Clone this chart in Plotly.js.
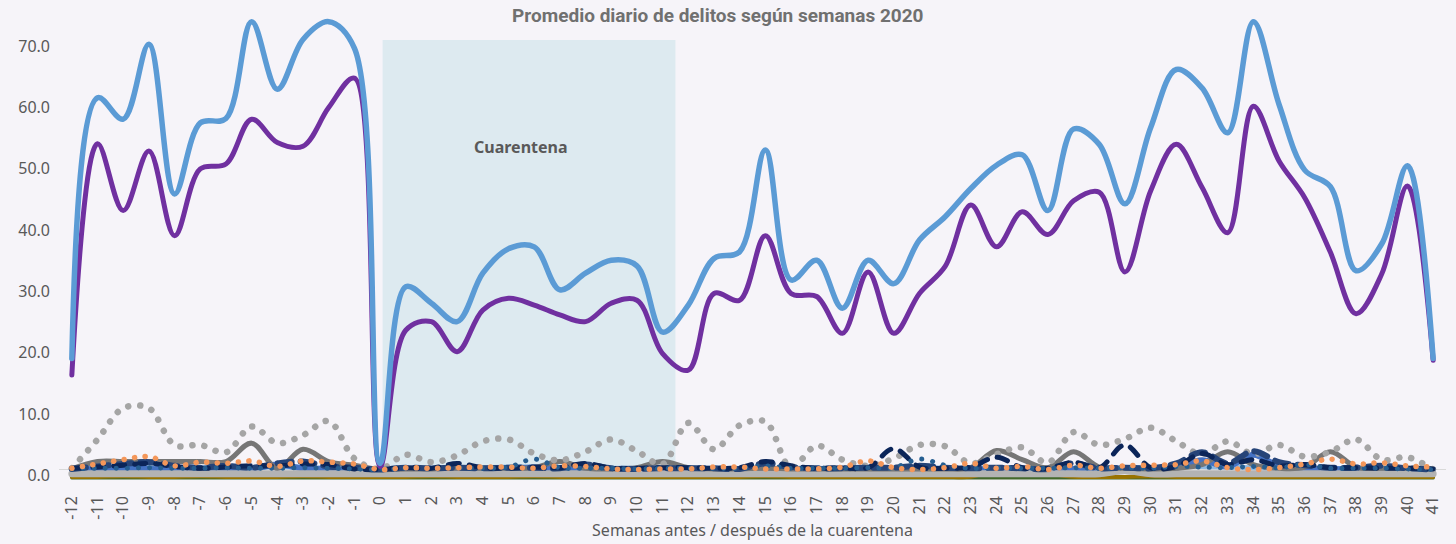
<!DOCTYPE html>
<html>
<head>
<meta charset="utf-8">
<script src="https://cdn.plot.ly/plotly-3.0.1.min.js"></script>
<style>
  html, body { margin: 0; padding: 0; background: #F6F4F9; }
  #chart { width: 1456px; height: 544px; }
  .js-line { stroke-linecap: round; stroke-linejoin: round; }
</style>
</head>
<body>
<div id="chart"></div>
<script>
// Semanas antes / después de la cuarentena
const semanas = [-12,-11,-10,-9,-8,-7,-6,-5,-4,-3,-2,-1,0,1,2,3,4,5,6,7,8,9,10,11,12,13,14,15,16,17,18,19,20,21,22,23,24,25,26,27,28,29,30,31,32,33,34,35,36,37,38,39,40,41];
const etiquetasX = ["-12","-11","-10","-9","-8","-7","-6","-5","-4","-3","-2","-1","0","1","2","3","4","5","6","7","8","9","10","11","12","13","14","15","16","17","18","19","20","21","22","23","24","25","26","27","28","29","30","31","32","33","34","35","36","37","38","39","40","41"];
const ticksY = [0,10,20,30,40,50,60,70];

// Serie principal (azul)
const serieTotal = [18.1,60.6,57.1,69.3,44.9,56.5,57.2,73.0,62.0,70.1,73.0,68.7,
  1.0,29.8,27.1,24.1,32.0,36.0,36.3,29.3,32.0,34.1,33.2,22.4,
  26.8,34.4,35.5,52.1,30.9,34.1,26.3,34.1,30.3,37.4,41.2,45.8,
  49.6,51.3,42.2,55.5,53.0,43.3,55.7,65.2,62.2,54.9,73.0,59.5,
  48.8,46.1,32.4,36.8,49.5,18.1];
// Segunda serie (morado)
const serieMorada = [15.4,53.1,42.2,51.9,38.1,49.0,49.8,57.1,53.3,52.7,59.0,63.8,
  0.5,22.7,24.1,19.2,26.0,27.9,26.8,25.2,24.1,27.1,27.6,18.9,
  16.2,28.7,27.6,38.1,28.7,28.2,22.2,32.2,22.2,28.7,33.1,43.1,
  36.3,42.0,38.3,43.8,45.2,32.2,45.4,53.0,46.0,38.6,59.2,50.3,
  44.3,35.4,25.4,31.9,46.2,17.8];
// Series menores
const serieGrisPunteada = [0.2,4.9,10.0,10.0,4.0,4.0,2.8,7.0,4.3,5.6,7.9,1.8,
  0.1,2.4,1.2,2.3,4.6,4.9,2.6,1.5,2.9,4.9,3.0,0.9,
  7.6,3.3,7.2,7.8,0.3,3.9,1.6,0.6,1.8,4.0,3.8,1.0,
  2.5,3.6,1.1,6.1,4.0,5.0,6.8,4.6,2.5,4.6,2.5,4.0,
  2.1,2.9,4.9,1.6,2.0,0.0];
const serieNaranjaPunteada = [0.2,0.9,1.6,2.1,0.6,1.2,1.0,1.4,0.5,1.4,1.2,0.9,
  0.0,0.3,0.2,0.3,0.4,0.4,0.2,0.6,0.5,0.1,0.0,0.1,
  0.1,0.4,0.4,0.1,0.1,0.1,0.4,1.4,0.3,0.0,0.3,1.0,
  0.2,0.5,0.0,0.7,0.2,0.6,0.7,0.8,1.4,0.3,0.0,0.3,
  0.9,1.7,0.9,1.1,0.6,0.4];
const serieGrisOscura = [0.1,1.3,1.3,1.3,1.3,1.3,1.3,4.3,0.2,3.3,1.3,0.7,
  0.0,0.1,0.1,0.2,0.2,0.2,0.3,1.3,0.2,0.1,0.3,1.3,
  0.3,0.1,0.1,0.2,0.1,0.1,0.1,0.1,0.1,0.1,0.1,0.3,
  3.1,1.6,0.3,2.9,0.4,0.2,0.1,0.2,0.8,2.9,0.8,0.2,
  0.4,2.9,0.4,0.2,0.2,0.1];
const serieAzulMarino = [0.2,0.4,0.7,1.0,0.5,0.2,0.4,0.6,0.6,0.9,0.8,0.1,
  0.0,0.3,0.2,1.0,0.3,0.2,0.4,0.3,1.0,0.2,0.2,0.3,
  0.3,0.2,0.3,1.3,0.6,0.2,0.3,0.3,3.4,0.4,0.2,0.4,
  2.0,0.3,0.2,1.2,0.3,4.0,0.3,0.5,2.6,0.8,1.6,0.6,
  0.8,0.3,0.3,0.2,0.2,0.1];
const serieAzulMedio = [0.1,0.5,0.9,1.2,0.6,0.3,0.6,0.3,1.0,1.3,0.5,0.3,
  0.0,0.3,0.2,0.3,0.2,0.3,0.3,0.2,0.8,0.2,0.1,0.2,
  0.2,0.2,0.1,1.0,0.4,0.2,0.2,0.3,0.3,0.6,0.3,0.2,
  0.3,0.2,0.1,1.0,0.2,0.3,0.2,1.0,2.8,1.0,3.0,1.2,
  0.7,0.3,0.3,0.6,0.2,0.0];
const serieAzulVivo = [0.0,0.1,0.2,0.1,0.0,0.1,0.2,0.1,0.8,0.2,0.1,0.0,
  0.0,0.1,0.0,0.1,0.1,0.2,0.3,0.1,0.1,0.0,0.1,0.1,
  0.0,0.1,0.0,0.1,0.0,0.1,0.0,0.1,0.0,0.1,0.1,0.0,
  0.1,0.0,0.1,0.1,0.0,0.2,0.1,0.3,1.5,0.5,2.4,0.5,
  0.1,0.1,0.0,0.1,0.0,0.0];
const serieAzulAcero = [0.1,0.2,0.2,0.3,0.2,0.2,0.3,0.2,0.2,0.3,0.2,0.1,
  0.0,0.2,0.2,0.3,0.2,0.4,1.7,0.3,0.2,0.2,0.1,0.2,
  0.2,0.2,0.2,0.6,0.2,0.2,0.2,0.3,0.3,1.7,0.7,0.2,
  0.3,0.2,0.2,0.3,0.2,0.3,0.2,0.5,0.4,0.3,0.5,0.3,
  0.8,0.2,0.2,0.2,0.1,0.0];
const serieCeleste = [0.2,0.3,0.4,0.3,0.2,0.3,0.3,0.2,0.5,0.3,0.2,0.2,
  0.1,0.2,0.2,0.2,0.3,0.4,0.4,0.3,0.2,0.2,0.2,0.2,
  0.2,0.2,0.1,0.2,0.2,0.2,0.1,0.2,0.2,0.3,0.2,0.2,
  0.3,0.3,0.2,0.2,0.2,0.3,0.3,0.5,0.5,0.4,0.3,0.2,
  0.2,0.2,0.1,0.1,0.1,0.0];
const serieGrisClara = [-0.7,-0.7,-0.7,-0.7,-0.7,-0.7,-0.7,-0.7,-0.7,-0.7,-0.7,-0.7,
  -0.7,-0.7,-0.7,-0.7,-0.7,-0.7,-0.7,-0.7,-0.7,-0.7,-0.7,-0.7,
  -0.7,-0.7,-0.7,-0.7,-0.7,-0.7,-0.7,-0.7,-0.7,-0.7,-0.7,-0.7,
  -0.7,-0.7,-0.7,-0.7,-0.7,-0.2,-0.7,-0.7,-0.7,-0.7,-0.7,-0.7,
  -0.7,-0.7,-0.7,-0.7,-0.7,-0.7];
const serieOcre = [-1.2,-1.2,-1.1,-1.2,-1.2,-1.1,-1.2,-1.2,-1.2,-1.1,-1.2,-1.2,
  -1.2,-1.2,-1.1,-1.2,-1.2,-1.2,-1.1,-1.2,-1.2,-1.2,-1.2,-1.2,
  -1.2,-1.2,-1.2,-1.1,-1.2,-1.2,-1.2,-1.2,-1.2,-1.2,-1.2,-1.2,
  -0.1,0.1,-0.6,-1.2,-1.2,-1.2,-1.1,-1.2,-1.2,-1.2,-1.2,-1.2,
  -1.2,-1.2,-1.2,-1.2,-1.2,-1.2];
const serieVerde = [-1.4,-1.4,-1.4,-1.4,-1.4,-1.4,-1.4,-1.4,-1.4,-1.4,-1.4,-1.4,
  -1.4,-1.4,-1.4,-1.4,-1.4,-1.4,-1.4,-1.4,-1.4,-1.4,-1.4,-1.4,
  -1.4,-1.4,-1.4,-1.4,-1.4,-1.4,-1.4,-1.4,-1.4,-1.4,-1.4,-1.4,
  -1.4,-1.4,-1.4,-1.4,-1.4,-1.4,-1.4,-1.4,-1.4,-1.4,-1.4,-1.4,
  -1.4,-1.4,-1.4,-1.4,-1.4,-1.4];

function linea(y, color, width, dash) {
  return {
    x: semanas, y: y, type: 'scatter', mode: 'lines',
    line: { color: color, width: width, shape: 'spline', smoothing: 1, dash: dash || 'solid' },
    hoverinfo: 'skip', showlegend: false
  };
}

const data = [
  linea(serieVerde, '#43682B', 3),
  linea(serieOcre, '#997300', 4),
  linea(serieCeleste, '#8DB9E4', 5),
  linea(serieAzulVivo, '#4472C4', 6),
  linea(serieGrisClara, '#B3B3B3', 7),
  linea(serieGrisOscura, '#767676', 5),
  linea(serieGrisPunteada, '#A5A5A5', 6.5, '0.1px,12px'),
  linea(serieAzulMedio, '#264478', 6, '14px,9px'),
  linea(serieAzulMarino, '#0B2559', 5, '11px,10px'),
  linea(serieAzulAcero, '#255E91', 5, '0.1px,11px'),
  linea(serieNaranjaPunteada, '#F4975A', 5.5, '0.1px,10.5px'),
  linea(serieMorada, '#7030A0', 5),
  linea(serieTotal, '#5B9BD5', 5.5)
];

const fuente = 'Noto Sans, Lato, sans-serif';
const layout = {
  width: 1456, height: 544,
  paper_bgcolor: '#F6F4F9', plot_bgcolor: '#F6F4F9',
  margin: { l: 59, r: 10, t: 10, b: 60 },
  title: {
    text: 'Promedio diario de delitos según semanas 2020',
    x: 0.493, xanchor: 'center', y: 0.971, yanchor: 'middle', yref: 'container',
    font: { family: 'Liberation Sans Narrow, Roboto, sans-serif', size: 19, weight: 700, color: '#707070' }
  },
  xaxis: {
    range: [-12.5, 41.5], tickmode: 'array', tickvals: semanas, ticktext: etiquetasX,
    tickangle: -90, tickfont: { family: fuente, size: 16, color: '#595959' },
    showgrid: false, zeroline: false, showline: false, ticks: '', fixedrange: true,
    ticklabelstandoff: 8,
    title: { text: 'Semanas antes / después de la cuarentena', font: { family: fuente, size: 16, color: '#595959' }, standoff: 6 }
  },
  yaxis: {
    range: [-2.36, 74.9], tickmode: 'array', tickvals: ticksY, tickformat: '.1f',
    tickfont: { family: fuente, size: 16, color: '#595959' },
    showgrid: false, zeroline: true, zerolinecolor: '#D9D9D9', zerolinewidth: 1.5,
    showline: false, ticks: '', ticklabelshift: 6, ticklabelstandoff: 8, fixedrange: true
  },
  shapes: [{
    type: 'rect', xref: 'x', yref: 'y', x0: 0.1, x1: 11.5, y0: 0, y1: 70,
    fillcolor: '#DDEAF0', line: { width: 0 }, layer: 'below'
  }],
  annotations: [{
    text: '<b>Cuarentena</b>', x: 5.5, y: 52.6, xref: 'x', yref: 'y', showarrow: false,
    font: { family: fuente, size: 16, color: '#595959' }
  }]
};

Plotly.newPlot('chart', data, layout, { displayModeBar: false, staticPlot: true });
</script>
</body>
</html>
